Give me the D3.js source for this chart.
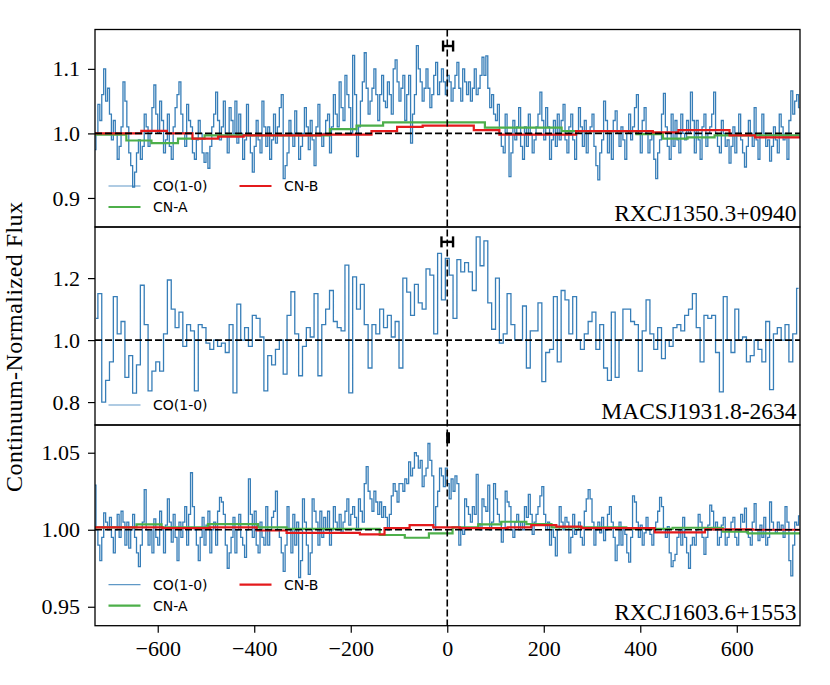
<!DOCTYPE html>
<html>
<head>
<meta charset="utf-8">
<script src="https://cdn.jsdelivr.net/npm/d3@7"></script>
<style>
  body { margin: 0; background: #fff; }
  svg { display: block; }
</style>
</head>
<body>
<div id="chart"></div>
<script>
// ---- data (velocity in km/s, flux continuum-normalized) ----

// CO(1-0) spectra, one value per channel
const coStartTop = -730, coStepTop = 4;
const coFluxTop = [
  0.975, 1.00, 1.045, 1.02, 1.06, 1.10, 1.05, 1.07, 1.03, 0.99, 1.02, 1.00, 0.96, 0.98, 1.01,
  1.08, 1.05, 1.01, 0.97, 0.95, 0.917, 0.94, 0.97, 0.99, 0.96, 0.98, 1.03, 1.01, 0.98, 1.00,
  1.04, 1.075, 1.03, 1.00, 1.05, 1.02, 0.97, 0.99, 1.03, 0.98, 0.96, 1.01, 1.04, 1.06, 1.08,
  1.03, 1.00, 0.98, 1.045, 1.02, 1.01, 0.97, 0.96, 0.99, 1.02, 1.00, 0.97, 0.955, 0.97, 0.946,
  0.98, 1.01, 1.03, 1.064, 1.02, 0.99, 1.01, 1.05, 1.00, 0.97, 1.04, 1.02, 1.00, 1.05, 0.985,
  1.03, 1.00, 0.96, 0.99, 1.045, 1.00, 0.97, 0.94, 0.98, 1.02, 0.99, 0.97, 1.05, 1.01, 0.98,
  1.01, 0.96, 0.99, 1.03, 0.985, 1.01, 1.04, 1.06, 0.93, 0.95, 0.97, 1.02, 1.00, 0.98, 1.035,
  1.00, 0.96, 0.98, 1.00, 1.04, 1.01, 0.975, 1.02, 0.99, 0.95, 1.01, 1.045, 1.00, 0.98, 1.00,
  1.02, 1.03, 0.97, 1.01, 1.06, 1.03, 1.01, 1.08, 1.04, 1.02, 1.09, 1.06, 1.04, 1.00, 1.121,
  1.06, 0.964, 1.01, 1.05, 1.08, 1.125, 1.07, 1.03, 1.05, 1.07, 1.10, 1.06, 1.02, 1.06, 1.09,
  1.05, 1.04, 1.08, 1.06, 1.03, 1.10, 1.114, 1.08, 1.05, 1.07, 1.09, 1.02, 1.06, 1.09, 0.985,
  1.03, 1.06, 1.136, 1.10, 1.08, 1.05, 1.07, 1.10, 1.07, 1.04, 1.06, 1.09, 1.11, 1.06, 1.08,
  1.10, 1.08, 1.06, 1.09, 1.08, 1.05, 1.07, 1.09, 1.11, 1.07, 1.05, 1.10, 1.08, 1.06, 1.08,
  1.05, 1.07, 1.10, 1.06, 1.07, 1.09, 1.118, 1.09, 1.12, 1.07, 1.04, 1.06, 1.03, 1.02, 1.045,
  1.00, 0.98, 0.97, 1.03, 1.00, 0.933, 0.97, 1.02, 0.99, 1.01, 1.04, 0.98, 0.96, 1.01, 0.98,
  1.03, 1.00, 0.97, 0.99, 1.01, 1.03, 1.064, 1.02, 0.99, 1.04, 1.01, 0.96, 0.99, 1.02, 0.98,
  1.03, 0.99, 1.02, 1.045, 0.99, 0.97, 1.01, 1.03, 0.99, 0.96, 1.00, 1.04, 1.01, 0.98, 1.02,
  0.97, 1.00, 1.01, 1.03, 0.98, 0.95, 0.928, 0.97, 0.99, 1.05, 1.02, 0.97, 1.00, 0.96, 1.02,
  1.035, 1.00, 0.98, 1.01, 0.99, 0.96, 1.00, 1.03, 0.99, 1.01, 1.04, 1.06, 1.00, 0.97, 1.02,
  1.04, 1.00, 0.97, 0.99, 1.00, 0.96, 0.93, 0.97, 0.99, 1.03, 1.062, 1.01, 0.98, 0.96, 1.03,
  0.98, 1.02, 0.99, 0.97, 1.03, 1.00, 0.99, 1.02, 1.00, 1.064, 1.02, 0.97, 1.02, 0.99, 0.96,
  1.01, 1.03, 0.98, 1.00, 1.01, 1.03, 1.064, 1.00, 0.98, 0.97, 1.02, 1.00, 0.98, 0.99, 0.954,
  0.98, 1.01, 0.97, 1.00, 1.03, 0.99, 0.97, 0.948, 0.98, 1.02, 1.00, 0.98, 1.04, 0.99, 0.96,
  1.00, 1.03, 1.00, 0.98, 0.99, 0.957, 0.98, 1.01, 0.99, 0.97, 1.03, 1.01, 0.99, 1.00, 0.96,
  1.02, 1.066, 1.03, 1.05, 1.06, 1.04
];

const coStartMid = -728, coStepMid = 8;
const coFluxMid = [
  1.07, 1.15, 0.80, 0.87, 0.93, 1.14, 1.02, 1.06, 0.88, 0.95,
  0.829, 0.92, 1.177, 1.05, 0.836, 0.90, 0.93, 0.90, 1.02, 1.194,
  1.10, 1.04, 1.09, 0.98, 1.05, 1.03, 0.836, 1.05, 1.04, 0.99,
  0.97, 1.00, 0.98, 0.99, 0.96, 1.05, 0.83, 1.116, 1.00, 1.04,
  0.98, 1.08, 1.07, 1.01, 0.836, 0.95, 0.92, 0.97, 1.00, 0.89,
  1.08, 1.156, 1.02, 0.885, 0.98, 1.04, 1.01, 1.15, 0.885, 1.05,
  1.10, 1.16, 1.06, 1.04, 1.03, 1.242, 0.83, 1.204, 1.10, 1.18,
  1.05, 0.91, 1.05, 1.02, 1.10, 1.04, 1.08, 1.01, 1.06, 0.91,
  1.20, 1.155, 1.08, 1.18, 1.12, 1.10, 1.23, 1.21, 1.02, 1.28,
  1.13, 1.264, 1.21, 1.07, 1.26, 1.22, 1.25, 1.22, 1.16, 1.333,
  1.24, 1.32, 1.12, 1.035, 1.20, 0.99, 1.02, 1.15, 1.05, 1.00,
  1.00, 1.11, 0.91, 1.03, 1.03, 1.12, 0.866, 0.96, 0.97, 1.14,
  0.93, 1.16, 1.13, 1.02, 1.14, 1.00, 0.97, 1.02, 1.06, 1.09,
  0.97, 1.05, 0.91, 0.87, 1.09, 0.88, 1.00, 1.10, 1.10, 1.06,
  1.05, 0.90, 1.03, 1.13, 1.02, 0.97, 1.04, 0.94, 1.00, 0.98,
  1.04, 1.05, 1.03, 1.08, 1.10, 1.15, 1.04, 0.93, 1.08, 1.07,
  1.08, 0.96, 0.833, 1.14, 1.00, 0.96, 1.10, 1.00, 1.01, 0.93,
  0.95, 1.00, 0.97, 0.93, 1.06, 0.84, 1.02, 1.04, 1.00, 1.05,
  0.93, 1.02, 1.167
];

const coStartBot = -730, coStepBot = 4;
const coFluxBot = [
  1.029, 1.00, 0.99, 0.98, 0.995, 1.011, 1.005, 1.00, 1.008, 0.995, 0.985, 1.00, 1.01, 0.995, 1.012,
  1.005, 0.99, 1.005, 0.988, 1.00, 1.01, 0.995, 0.985, 0.976, 0.99, 1.005, 1.026, 1.00, 0.99, 1.00,
  0.985, 1.007, 0.995, 0.99, 1.012, 1.00, 0.985, 1.003, 1.02, 1.005, 0.992, 1.01, 0.995, 0.98, 1.005,
  0.995, 1.005, 1.015, 0.99, 1.01, 1.037, 1.015, 1.00, 0.99, 0.98, 0.995, 1.008, 0.99, 1.003, 1.012,
  0.985, 1.00, 1.005, 0.99, 1.012, 1.021, 1.018, 1.01, 0.99, 0.975, 0.985, 0.995, 1.008, 0.985, 1.00,
  1.01, 0.995, 0.99, 0.982, 1.00, 1.033, 1.01, 0.995, 1.012, 0.99, 0.985, 1.005, 0.995, 0.99, 1.015,
  0.99, 1.00, 1.008, 1.012, 1.025, 1.00, 0.995, 0.985, 0.973, 0.99, 1.015, 1.00, 0.985, 1.01, 0.99,
  1.005, 0.969, 0.98, 1.02, 1.005, 0.99, 0.971, 0.985, 1.02, 1.012, 1.005, 0.99, 1.012, 0.995, 1.008,
  1.00, 1.012, 0.99, 1.00, 1.015, 1.005, 1.00, 1.01, 0.998, 1.005, 1.012, 1.02, 1.003, 1.01, 1.015,
  1.008, 1.00, 1.02, 1.012, 1.005, 1.03, 1.041, 1.025, 1.02, 1.012, 1.025, 1.018, 1.01, 1.018, 1.008,
  1.015, 1.008, 1.00, 1.01, 1.022, 1.03, 1.025, 1.018, 1.03, 1.03, 1.025, 1.033, 1.03, 1.044, 1.035,
  1.04, 1.05, 1.048, 1.04, 1.045, 1.028, 1.035, 1.04, 1.056, 1.045, 1.035, 1.00, 1.015, 1.025, 1.04,
  1.035, 1.028, 1.04, 1.03, 1.02, 1.033, 1.025, 1.035, 1.03, 0.99, 1.00, 0.997, 1.02, 1.015, 1.01,
  1.005, 1.015, 1.01, 1.036, 1.004, 1.00, 1.02, 1.015, 1.012, 1.029, 1.00, 1.005, 1.03, 1.02, 1.01,
  1.005, 0.992, 1.00, 1.025, 1.018, 1.015, 1.00, 0.995, 1.005, 1.01, 1.00, 1.005, 1.00, 1.015, 1.008,
  1.023, 1.01, 0.997, 1.005, 1.01, 1.015, 1.022, 1.028, 1.01, 1.00, 1.005, 0.99, 1.00, 0.995, 0.983,
  1.00, 1.015, 1.005, 1.00, 1.008, 1.005, 0.985, 0.995, 1.01, 0.997, 1.00, 1.005, 0.995, 0.99, 1.012,
  1.02, 1.026, 1.02, 1.005, 0.99, 1.00, 1.005, 0.998, 1.008, 0.993, 1.00, 1.01, 1.015, 1.005, 0.995,
  0.98, 0.99, 1.005, 0.99, 1.00, 0.997, 0.985, 0.979, 0.995, 1.022, 1.018, 1.005, 0.995, 1.003, 0.99,
  0.998, 1.008, 1.00, 0.997, 0.99, 1.00, 1.005, 1.012, 1.021, 1.015, 1.00, 0.995, 1.002, 0.985, 0.976,
  0.98, 0.984, 0.995, 1.00, 0.99, 1.008, 0.995, 0.985, 0.975, 0.99, 0.995, 0.99, 1.00, 1.01, 1.005,
  0.995, 0.984, 0.995, 1.003, 1.016, 1.012, 1.00, 1.005, 0.99, 0.995, 1.003, 1.008, 0.99, 0.995, 1.00,
  1.005, 1.008, 0.995, 0.99, 1.00, 1.01, 1.005, 1.014, 0.998, 0.995, 0.99, 1.005, 1.017, 1.00, 0.993,
  1.003, 0.995, 1.008, 0.99, 0.995, 1.018, 1.005, 1.00, 0.998, 1.005, 1.00, 1.003, 0.995, 1.015, 1.005,
  0.98, 0.97, 0.99, 1.005, 1.003, 1.009
];

// CN stacked profiles: bin edges (n+1) and binned flux (n)
const cnBEdgesTop = [-740, -687, -634, -581, -528, -475, -422, -369, -316, -263, -210, -157, -104, -51, 2, 55, 108, 161, 214, 267, 320, 373, 426, 479, 532, 585, 638, 691, 744];
const cnBFluxTop = [1.0, 1.0, 1.004, 1.0, 0.992, 0.995, 0.997, 0.997, 0.997, 0.998, 0.998, 1.0035, 1.010, 1.012, 1.012, 1.005, 0.998, 0.998, 0.998, 1.0035, 1.0035, 1.0035, 1.0015, 1.005, 1.005, 0.997, 0.994, 0.994];
const cnAEdgesTop = [-740, -665, -613, -558, -503, -243, -188, -133, 78, 237, 392, 447, 498, 554, 744];
const cnAFluxTop = [0.998, 0.989, 0.985, 0.992, 0.997, 1.0066, 1.012, 1.017, 1.009, 1.0035, 0.999, 0.992, 0.994, 0.997];

const cnBEdgesBot = [-740, -590, -492, -395, -333, -181, -130, -78, -29, 26, 125, 174, 226, 278, 430, 534, 633, 744];
const cnBFluxBot = [1.0015, 1.001, 1.0015, 0.9995, 0.998, 0.997, 1.001, 1.003, 1.0015, 1.001, 1.0015, 1.003, 1.002, 1.001, 0.9983, 1.0003, 1.0];
const cnAEdgesBot = [-740, -644, -592, -496, -392, -333, -140, -88, -38, 11, 64, 112, 164, 216, 371, 467, 571, 623, 744];
const cnAFluxBot = [1.0015, 1.0035, 1.0015, 1.0037, 1.0015, 1.0005, 0.9966, 0.9948, 0.9977, 1.0015, 1.0035, 1.0052, 1.0037, 1.0015, 1.0005, 1.0013, 0.9987, 0.9977];

// systemic velocity markers: [velocity, velocity error, flux]
const sysTop = [1.7, 10.4, 1.1354];
const sysMid = [0, 12, 1.317];
const sysBot = [1.7, 1.5, 1.0597];

// axis ranges and tick values
const xDomain = [-730, 731];
const xTicks = [-600, -400, -200, 0, 200, 400, 600];
const yDomainTop = [0.855, 1.161], yTicksTop = [0.9, 1.0, 1.1];
const yDomainMid = [0.726, 1.365], yTicksMid = [0.8, 1.0, 1.2];
const yDomainBot = [0.9377, 1.068], yTicksBot = [0.95, 1.00, 1.05];

const clusterNames = ['RXCJ1350.3+0940', 'MACSJ1931.8-2634', 'RXCJ1603.6+1553'];
const yLabel = 'Continuum-Normalized Flux';

// ---- layout ----
const width = 830, height = 685;
const plotLeft = 95, plotRight = 800;
const panelEdges = [29.5, 227, 425, 625.7];
const serif = '"Liberation Serif", "Times New Roman", serif';
const sans = '"DejaVu Sans", sans-serif';

const colCO = '#377eb8', colA = '#4daf4a', colB = '#e41a1c';

const panels = [
    { co: coFluxTop, start: coStartTop, step: coStepTop, yDomain: yDomainTop, yTicks: yTicksTop, fmt: '.1f',
      cn: [{ edges: cnAEdgesTop, flux: cnAFluxTop, color: colA, label: 'CN-A' },
           { edges: cnBEdgesTop, flux: cnBFluxTop, color: colB, label: 'CN-B' }], sys: sysTop },
    { co: coFluxMid, start: coStartMid, step: coStepMid, yDomain: yDomainMid, yTicks: yTicksMid, fmt: '.1f',
      cn: [], sys: sysMid },
    { co: coFluxBot, start: coStartBot, step: coStepBot, yDomain: yDomainBot, yTicks: yTicksBot, fmt: '.2f',
      cn: [{ edges: cnAEdgesBot, flux: cnAFluxBot, color: colA, label: 'CN-A' },
           { edges: cnBEdgesBot, flux: cnBFluxBot, color: colB, label: 'CN-B' }], sys: sysBot }
];

const svg = d3.select('#chart')
    .append('svg')
    .attr('width', width)
    .attr('height', height)
    .style('background', '#fff');

const x = d3.scaleLinear().domain(xDomain).range([plotLeft, plotRight]);

function drawErrorbar(y, [sv, se, sf]) {
    const eb = svg.append('g').attr('stroke', '#000').attr('stroke-width', 2.4);
    eb.append('line')
        .attr('x1', x(sv - se)).attr('x2', x(sv + se))
        .attr('y1', y(sf)).attr('y2', y(sf));
    [sv - se, sv + se].forEach(v => {
        eb.append('line')
            .attr('x1', x(v)).attr('x2', x(v))
            .attr('y1', y(sf) - 5.5).attr('y2', y(sf) + 5.5);
    });
}

panels.forEach((p, i) => {
    const top = panelEdges[i], bottom = panelEdges[i + 1];
    const y = d3.scaleLinear().domain(p.yDomain).range([bottom, top]);
    p.yScale = y;

    // clip to the axes box
    svg.append('clipPath')
        .attr('id', `clip${i}`)
        .append('rect')
        .attr('x', plotLeft)
        .attr('y', top)
        .attr('width', plotRight - plotLeft)
        .attr('height', bottom - top);

    const g = svg.append('g').attr('clip-path', `url(#clip${i})`);

    // CO spectrum as mid steps
    const coPts = p.co.map((f, k) => [p.start + k * p.step, f]);
    g.append('path')
        .datum(coPts)
        .attr('fill', 'none')
        .attr('stroke', colCO)
        .attr('stroke-width', 1.3)
        .attr('d', d3.line().x(d => x(d[0])).y(d => y(d[1])).curve(d3.curveStep));

    // CN binned profiles
    p.cn.forEach(s => {
        const pts = s.flux.map((f, k) => [s.edges[k], f]);
        pts.push([s.edges[s.edges.length - 1], s.flux[s.flux.length - 1]]);
        g.append('path')
            .datum(pts)
            .attr('fill', 'none')
            .attr('stroke', s.color)
            .attr('stroke-width', 2.2)
            .attr('d', d3.line().x(d => x(d[0])).y(d => y(d[1])).curve(d3.curveStepAfter));
    });

    // continuum level
    g.append('line')
        .attr('x1', plotLeft).attr('x2', plotRight)
        .attr('y1', y(1)).attr('y2', y(1))
        .attr('stroke', '#000')
        .attr('stroke-width', 1.6)
        .attr('stroke-dasharray', '7,3');

    // y axis
    const yAxis = svg.append('g')
        .attr('transform', `translate(${plotLeft},0)`)
        .call(d3.axisLeft(y).tickValues(p.yTicks).tickFormat(d3.format(p.fmt)).tickSize(7).tickPadding(8));
    yAxis.select('.domain').remove();
    yAxis.selectAll('line').attr('stroke', '#000').attr('stroke-width', 1.2);
    yAxis.selectAll('text')
        .attr('fill', '#000')
        .style('font-family', serif)
        .style('font-size', '22px');

    // legend, two columns filled column-wise, anchored lower left
    const entries = [{ label: 'CO(1-0)', color: colCO, w: 1.2 }]
        .concat(p.cn.map(s => ({ label: s.label, color: s.color, w: 2.2 })));
    const rows = Math.ceil(entries.length / 2);
    entries.forEach((e, k) => {
        const col = Math.floor(k / rows), row = k % rows;
        const lx = plotLeft + 13.5 + col * 131;
        const ly = bottom - 20 - (rows - 1 - row) * 21;
        svg.append('line')
            .attr('x1', lx).attr('x2', lx + 32)
            .attr('y1', ly).attr('y2', ly)
            .attr('stroke', e.color)
            .attr('stroke-opacity', e.label === 'CO(1-0)' ? 0.8 : 1)
            .attr('stroke-width', e.w);
        svg.append('text')
            .attr('x', lx + 44.5)
            .attr('y', ly)
            .attr('dy', '0.36em')
            .style('font-family', sans)
            .style('font-size', '14px')
            .text(e.label);
    });

    // cluster name
    svg.append('text')
        .attr('x', plotRight - 3.5)
        .attr('y', bottom - 6)
        .attr('text-anchor', 'end')
        .style('font-family', serif)
        .style('font-size', '23.5px')
        .text(clusterNames[i]);
});

// zero-velocity line through all panels
svg.append('line')
    .attr('x1', x(0)).attr('x2', x(0))
    .attr('y1', panelEdges[0]).attr('y2', panelEdges[3])
    .attr('stroke', '#000')
    .attr('stroke-width', 1.6)
    .attr('stroke-dasharray', '7,3');

// systemic velocity error bars above the dashed line
panels.forEach(p => drawErrorbar(p.yScale, p.sys));

// axes frames
panels.forEach((p, i) => {
    svg.append('rect')
        .attr('x', plotLeft)
        .attr('y', panelEdges[i])
        .attr('width', plotRight - plotLeft)
        .attr('height', panelEdges[i + 1] - panelEdges[i])
        .attr('fill', 'none')
        .attr('stroke', '#000')
        .attr('stroke-width', 1.3);
});

// shared x axis on the bottom panel
const xAxis = svg.append('g')
    .attr('transform', `translate(0,${panelEdges[3]})`)
    .call(d3.axisBottom(x).tickValues(xTicks).tickFormat(d3.format('d')).tickSize(7).tickPadding(8));
xAxis.select('.domain').remove();
xAxis.selectAll('line').attr('stroke', '#000').attr('stroke-width', 1.2);
xAxis.selectAll('text')
    .attr('fill', '#000')
    .style('font-family', serif)
    .style('font-size', '22px');

// y label
svg.append('text')
    .attr('transform', 'rotate(-90)')
    .attr('x', -347)
    .attr('y', 22)
    .attr('text-anchor', 'middle')
    .attr('textLength', 290)
    .attr('lengthAdjust', 'spacing')
    .style('font-family', serif)
    .style('font-size', '24px')
    .text(yLabel);
</script>
</body>
</html>
